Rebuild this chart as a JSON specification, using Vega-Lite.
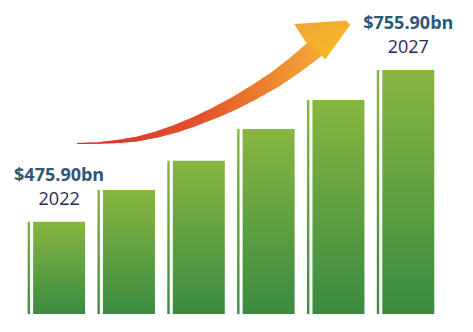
{
  "$schema": "https://vega.github.io/schema/vega-lite/v6.json",
  "width": 473,
  "height": 332,
  "autosize": {"type": "fit", "contains": "padding"},
  "padding": 0,
  "background": "#ffffff",
  "config": {"view": {"stroke": null}},
  "datasets": {
    "bars": [
      {"year": 2022, "value": 475.9},
      {"year": 2023, "value": 534.4},
      {"year": 2024, "value": 588.5},
      {"year": 2025, "value": 647.0},
      {"year": 2026, "value": 700.5},
      {"year": 2027, "value": 755.9}
    ],
    "labels": [
      {"year": 2022, "value": 475.9, "amount": "$475.90bn", "label": "2022"},
      {"year": 2027, "value": 755.9, "amount": "$755.90bn", "label": "2027"}
    ],
    "arrow": [
      {"year": 2022.262, "value": 620.2},
      {"year": 2022.557, "value": 621.1},
      {"year": 2022.837, "value": 623.9},
      {"year": 2023.117, "value": 628.5},
      {"year": 2023.398, "value": 636.8},
      {"year": 2023.678, "value": 647.9},
      {"year": 2023.958, "value": 661.7},
      {"year": 2024.239, "value": 677.4},
      {"year": 2024.519, "value": 695.0},
      {"year": 2024.799, "value": 715.3},
      {"year": 2025.080, "value": 737.4},
      {"year": 2025.360, "value": 763.3},
      {"year": 2025.682, "value": 796.5}
    ],
    "head": [
      {"year": 2025.767, "value": 818.6}
    ]
  },
  "layer": [
    {
      "data": {"name": "bars"},
      "mark": {
        "type": "bar",
        "width": 52,
        "color": {"gradient": "linear", "x1": 0, "y1": 0, "x2": 0, "y2": 1,
          "stops": [{"offset": 0, "color": "#88b640"}, {"offset": 1, "color": "#3a8b42"}]}
      },
      "encoding": {
        "x": {"field": "year", "type": "quantitative", "scale": {"domain": [2021.2249, 2027.855], "nice": false, "zero": false}, "axis": null},
        "y": {"field": "value", "type": "quantitative", "scale": {"domain": [272.3, 885.1], "nice": false, "zero": false}, "axis": null},
        "y2": {"datum": 305.5}
      }
    },
    {
      "data": {"name": "bars"},
      "mark": {
        "type": "bar",
        "width": 2.4,
        "xOffset": -30.3,
        "color": {"gradient": "linear", "x1": 0, "y1": 0, "x2": 0, "y2": 1,
          "stops": [{"offset": 0, "color": "#86b540"}, {"offset": 1, "color": "#3c8b42"}]}
      },
      "encoding": {
        "x": {"field": "year", "type": "quantitative"},
        "y": {"field": "value", "type": "quantitative"},
        "y2": {"datum": 305.5}
      }
    },
    {
      "data": {"name": "arrow"},
      "mark": {
        "type": "trail",
        "color": {"gradient": "linear", "x1": 0, "y1": 0, "x2": 1, "y2": 0,
          "stops": [
            {"offset": 0, "color": "#d02126"},
            {"offset": 0.5, "color": "#d6302a"},
            {"offset": 0.75, "color": "#e2652a"},
            {"offset": 1, "color": "#ee9c33"}
          ]}
      },
      "encoding": {
        "x": {"field": "year", "type": "quantitative"},
        "y": {"field": "value", "type": "quantitative"},
        "size": {"field": "year", "type": "quantitative", "scale": {"type": "sqrt", "domain": [2022.262, 2025.682], "range": [0, 19], "zero": false}, "legend": null}
      }
    },
    {
      "data": {"name": "arrow"},
      "mark": {
        "type": "trail",
        "opacity": 0.6,
        "color": {"gradient": "linear", "x1": 0, "y1": 0, "x2": 1, "y2": 0,
          "stops": [
            {"offset": 0, "color": "#d83a2a"},
            {"offset": 0.5, "color": "#ee6a2c"},
            {"offset": 0.8, "color": "#f59a30"},
            {"offset": 1, "color": "#f8b83a"}
          ]}
      },
      "encoding": {
        "x": {"field": "year", "type": "quantitative"},
        "y": {"field": "value", "type": "quantitative"},
        "size": {"field": "year", "type": "quantitative", "scale": {"type": "sqrt", "domain": [2022.262, 2025.682], "range": [0, 5], "zero": false}, "legend": null}
      }
    },
    {
      "data": {"name": "head"},
      "mark": {
        "type": "point",
        "filled": true,
        "opacity": 1,
        "strokeWidth": 0,
        "size": 3600,
        "shape": "M-0.933,-0.4L0.8,-0.517L0.933,-0.367L0.1,0.783L-0.133,0.523L-0.557,0.19Z",
        "color": {"gradient": "linear", "x1": 0, "y1": 0, "x2": 1, "y2": 1,
          "stops": [{"offset": 0, "color": "#efa23a"}, {"offset": 1, "color": "#f8c020"}]}
      },
      "encoding": {
        "x": {"field": "year", "type": "quantitative"},
        "y": {"field": "value", "type": "quantitative"}
      }
    },
    {
      "data": {"name": "labels"},
      "mark": {"type": "text", "font": "Open Sans", "fontSize": 18, "fontWeight": "bold", "color": "#2d5878", "dy": -41, "baseline": "alphabetic", "align": "center"},
      "encoding": {
        "x": {"field": "year", "type": "quantitative"},
        "y": {"field": "value", "type": "quantitative"},
        "text": {"field": "amount"}
      }
    },
    {
      "data": {"name": "labels"},
      "mark": {"type": "text", "font": "Open Sans", "fontSize": 18, "color": "#2a2a58", "dy": -17, "baseline": "alphabetic", "align": "center"},
      "encoding": {
        "x": {"field": "year", "type": "quantitative"},
        "y": {"field": "value", "type": "quantitative"},
        "text": {"field": "label"}
      }
    }
  ]
}
